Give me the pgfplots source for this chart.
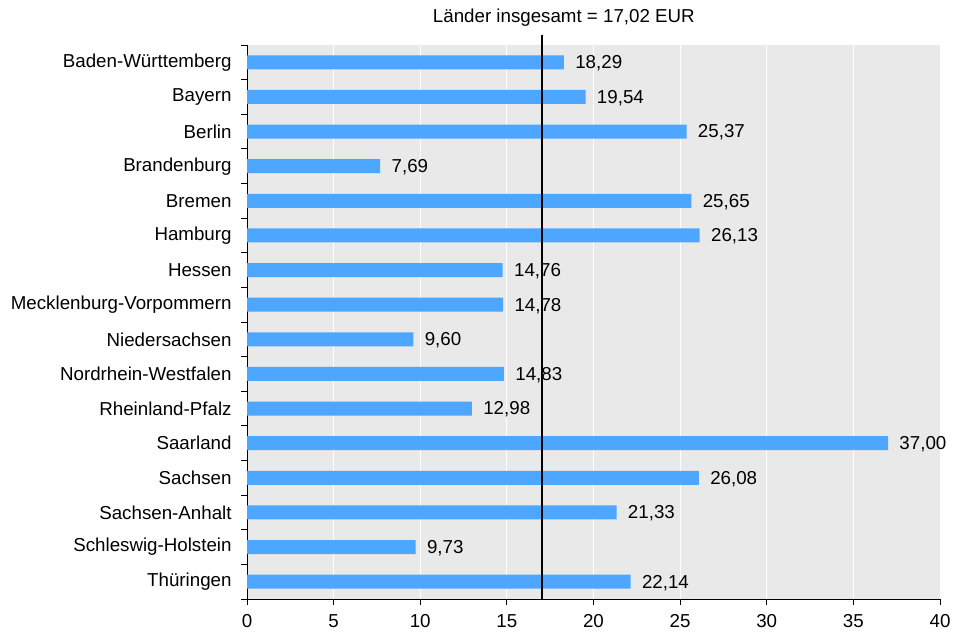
\documentclass[border=0pt]{standalone}
\usepackage{fontspec}
\setmainfont{Liberation Sans}
\usepackage{pgfplots}
\pgfplotsset{compat=1.18}
\definecolor{barblue}{HTML}{4DA6FF}
\definecolor{plotbg}{HTML}{E9E9E9}

\begin{document}
\fontsize{18.8}{22}\selectfont
\begin{tikzpicture}
\useasboundingbox (0,0) rectangle (954bp,633bp);
\begin{axis}[at={(247bp,34bp)}, anchor=south west,
  scale only axis, width=693bp, height=554bp,
  xbar, bar width=14bp, clip=false,
  xmin=0, xmax=40, ymin=-0.5, ymax=15.5, y dir=reverse,
  xtick={0,5,...,40},
  ytick={0,...,15},
  minor ytick={-0.5,0.5,...,15.5},
  yticklabels={Baden-Württemberg,Bayern,Berlin,Brandenburg,Bremen,Hamburg,Hessen,Mecklenburg-Vorpommern,Niedersachsen,Nordrhein-Westfalen,Rheinland-Pfalz,Saarland,Sachsen,Sachsen-Anhalt,Schleswig-Holstein,Thüringen},
  axis lines*=left, axis line style={black, line width=1pt},
  tick align=outside, major tick length=6bp, minor tick length=6bp,
  major y tick style={draw=none},
  minor y tick style={black, line width=1pt},
  major x tick style={black, line width=1pt},
  xmajorgrids, major grid style={white, line width=0.8pt},
  axis background/.style={fill=plotbg},
  tick label style={font=\fontsize{18.8}{22}\selectfont},
  /pgf/number format/assume math mode=true,
  xticklabel style={yshift=-3bp},
  yticklabel style={xshift=-3bp},
  nodes near coords,
  nodes near coords style={anchor=west, xshift=5bp, yshift=-1bp, font=\fontsize{18.8}{22}\selectfont,
    /pgf/number format/.cd, fixed, fixed zerofill, precision=2, use comma, assume math mode=true},
]
\addplot[draw=none, fill=barblue] coordinates {
  (18.29,0) (19.54,1) (25.37,2) (7.69,3) (25.65,4) (26.13,5) (14.76,6) (14.78,7)
  (9.60,8) (14.83,9) (12.98,10) (37.00,11) (26.08,12) (21.33,13) (9.73,14) (22.14,15)
};
\addplot[black, line width=1.6pt, xbar=0pt, nodes near coords={}, mark=none, sharp plot]
  coordinates {(17.02,-0.8) (17.02,15.5)}
  node[pos=0, anchor=south, xshift=22bp, yshift=1bp, font=\fontsize{18.8}{22}\selectfont] {Länder insgesamt = 17,02 EUR};
\end{axis}
\end{tikzpicture}
\end{document}
